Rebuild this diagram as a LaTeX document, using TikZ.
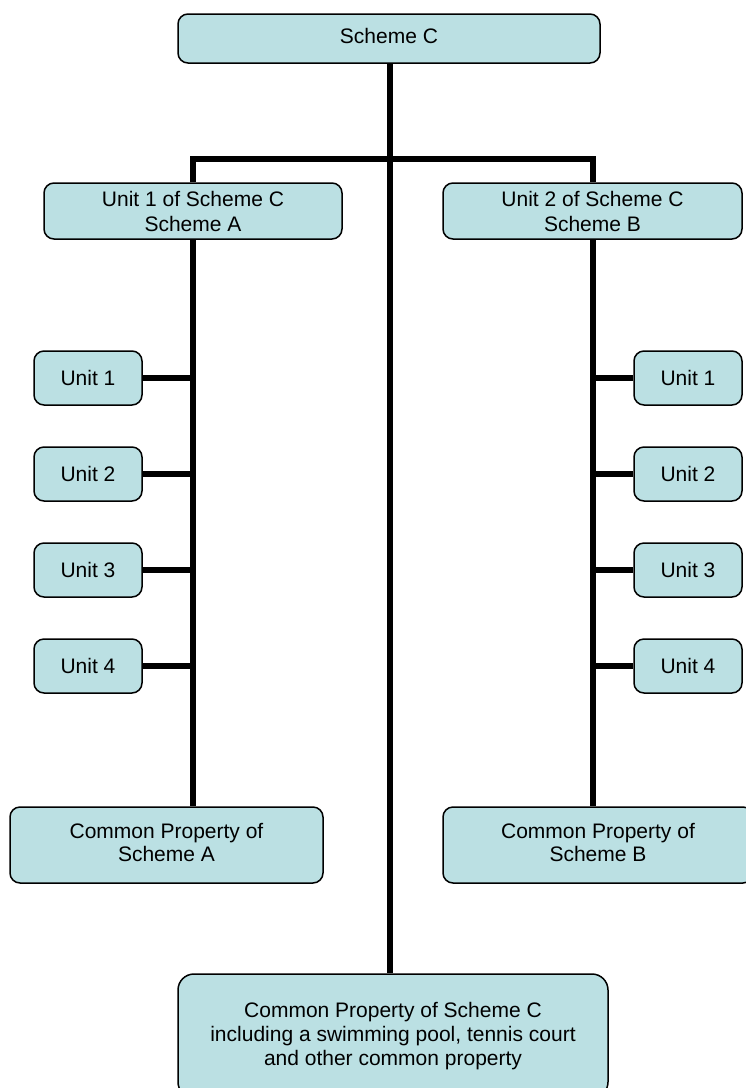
\documentclass[tikz,border=0pt]{standalone}
\usepackage{fontspec}
\setmainfont{Liberation Sans}
\usetikzlibrary{backgrounds}
\definecolor{boxfill}{HTML}{BBE0E3}
\begin{document}
\begin{tikzpicture}[x=1pt,y=-1pt,
  box/.style={draw=black, fill=boxfill, rounded corners=10pt, line width=1.5pt,
    align=center, inner sep=0pt, font=\fontsize{21}{25}\selectfont},
  unitbox/.style={box, minimum width=108pt, minimum height=54pt},
  conn/.style={line width=6pt, black}]
\useasboundingbox (0,0) rectangle (746,1088);

\node[box, minimum width=422pt, minimum height=49pt] (sc) at (389,38.5) {\raisebox{6pt}{Scheme C}};
\node[box, minimum width=298pt, minimum height=56pt] (u1c) at (193,211) {Unit 1 of Scheme C\\Scheme A};
\node[box, minimum width=299pt, minimum height=56pt] (u2c) at (592.5,211) {Unit 2 of Scheme C\\Scheme B};

\node[unitbox] (la1) at (88,378) {Unit 1};
\node[unitbox] (la2) at (88,474) {Unit 2};
\node[unitbox] (la3) at (88,570) {Unit 3};
\node[unitbox] (la4) at (88,666) {Unit 4};

\node[unitbox] (rb1) at (688,378) {Unit 1};
\node[unitbox] (rb2) at (688,474) {Unit 2};
\node[unitbox] (rb3) at (688,570) {Unit 3};
\node[unitbox] (rb4) at (688,666) {Unit 4};

\node[box, minimum width=313pt, minimum height=76pt] (cpa) at (166.5,845) {\raisebox{3pt}{\begin{tabular}{@{}c@{}}Common Property of\\[-2pt]Scheme A\end{tabular}}};
\node[box, minimum width=310pt, minimum height=76pt] (cpb) at (598,845) {\raisebox{3pt}{\begin{tabular}{@{}c@{}}Common Property of\\[-2pt]Scheme B\end{tabular}}};

\node[box, rounded corners=16pt, minimum width=430pt, minimum height=124pt] (cpc) at (393,1036) {\raisebox{8pt}{\begin{tabular}{@{}c@{}}Common Property of Scheme C\\[-1pt]including a swimming pool, tennis court\\[-1pt]and other common property\end{tabular}}};

\coordinate (bar) at (390,159);

\begin{scope}[on background layer]
\draw[conn] (sc.south -| bar) -- (cpc.north -| bar);
\draw[conn] (u1c.north) |- (bar) -| (u2c.north);
\draw[conn] (u1c.south) -- (cpa.north -| u1c.south);
\draw[conn] (u2c.south) -- (cpb.north -| u2c.south);
\foreach \n in {la1,la2,la3,la4}
  \draw[conn] (\n.east) -- (\n.east -| u1c.south);
\foreach \n in {rb1,rb2,rb3,rb4}
  \draw[conn] (\n.west) -- (\n.west -| u2c.south);
\end{scope}
\end{tikzpicture}
\end{document}
